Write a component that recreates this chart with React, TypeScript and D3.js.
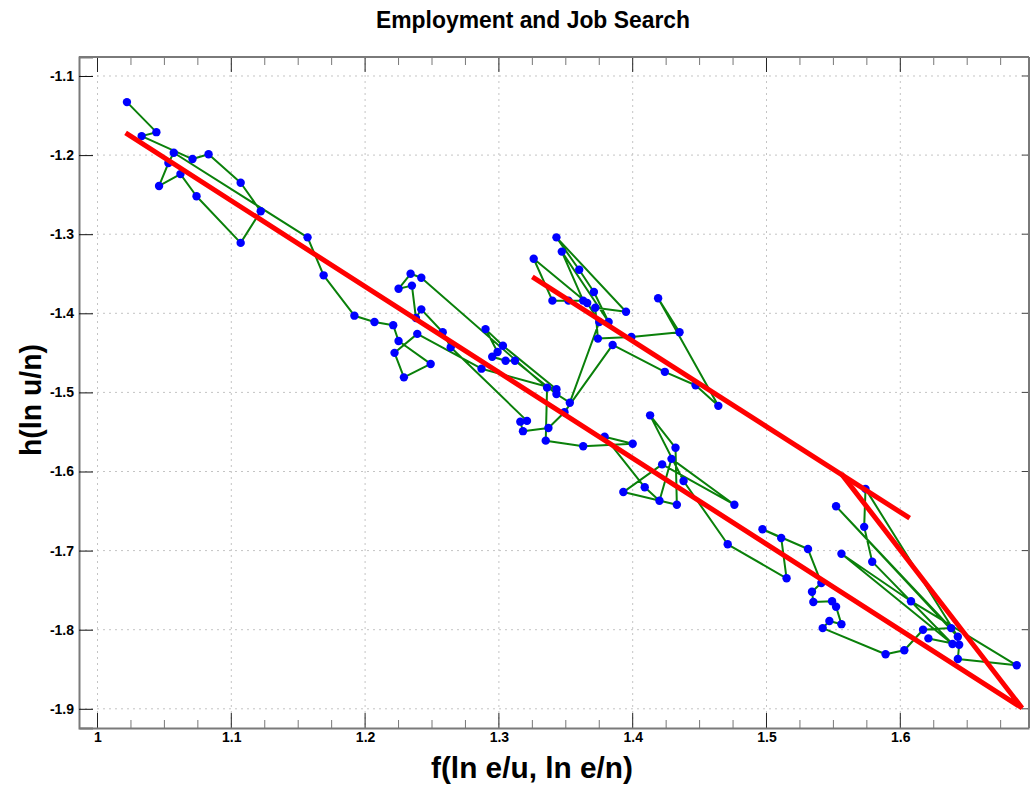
import { useEffect, useRef } from "react"
import * as d3 from "d3"

// series, in time order
const xVals = [
	1.022, 1.044, 1.033, 1.071, 1.083, 1.107, 1.122, 1.107, 1.074, 1.062, 1.046, 1.053, 1.057, 1.157, 1.169,
	1.192, 1.207, 1.221, 1.225, 1.249, 1.229, 1.222, 1.239, 1.287, 1.343, 1.303, 1.29, 1.299, 1.295, 1.305,
	1.312, 1.343, 1.353,
	1.375, 1.366, 1.326, 1.34, 1.352, 1.363, 1.347, 1.382, 1.371, 1.36, 1.343, 1.395, 1.372, 1.374, 1.399,
	1.435, 1.419, 1.464, 1.447, 1.424, 1.385,
	1.349, 1.337, 1.318, 1.316, 1.321, 1.264, 1.258, 1.242, 1.238, 1.235, 1.225, 1.234, 1.242, 1.336, 1.335,
	1.363, 1.4, 1.379, 1.409, 1.42, 1.429, 1.476, 1.422, 1.393, 1.433, 1.432, 1.413, 1.438,
	1.471, 1.515, 1.511, 1.497, 1.531, 1.541, 1.534, 1.535, 1.549, 1.552, 1.556, 1.547, 1.542, 1.589, 1.603,
	1.617, 1.638, 1.552, 1.643, 1.574, 1.573, 1.579, 1.639, 1.556, 1.608, 1.687, 1.643, 1.644, 1.621,
]
const yVals = [
	-1.133, -1.171, -1.176, -1.205, -1.199, -1.235, -1.271, -1.311, -1.252, -1.224, -1.239, -1.21, -1.197, -1.304, -1.352,
	-1.403, -1.411, -1.415, -1.435, -1.464, -1.481, -1.45, -1.426, -1.47, -1.496, -1.441, -1.42, -1.449, -1.455, -1.46,
	-1.46, -1.502, -1.513,
	-1.411, -1.387, -1.331, -1.384, -1.384, -1.384, -1.322, -1.411, -1.373, -1.345, -1.304, -1.398, -1.393, -1.432, -1.43,
	-1.424, -1.381, -1.517, -1.491, -1.474, -1.44,
	-1.525, -1.545, -1.549, -1.537, -1.536, -1.443, -1.424, -1.395, -1.406, -1.365, -1.369, -1.35, -1.355, -1.494, -1.561,
	-1.568, -1.565, -1.556, -1.62, -1.637, -1.584, -1.642, -1.591, -1.626, -1.642, -1.57, -1.529, -1.612,
	-1.692, -1.735, -1.684, -1.673, -1.698, -1.741, -1.752, -1.765, -1.764, -1.771, -1.793, -1.789, -1.798, -1.831, -1.826,
	-1.8, -1.798, -1.644, -1.809, -1.622, -1.67, -1.714, -1.818, -1.704, -1.764, -1.845, -1.837, -1.819, -1.811,
]

// fitted lines
const fitAX = [1.021, 1.691, 1.556]
const fitAY = [-1.172, -1.899, -1.603]
const fitBX = [1.325, 1.607]
const fitBY = [-1.354, -1.659]

const xTicks = [1, 1.1, 1.2, 1.3, 1.4, 1.5, 1.6]
const yTicks = [-1.1, -1.2, -1.3, -1.4, -1.5, -1.6, -1.7, -1.8, -1.9]
const xMinor = d3.range(0, 28).map((i) => 1 + i * 0.025)

const font = "'Liberation Sans', Arial, sans-serif"

export default function App() {
	const ref = useRef(null)
	const margin = { top: 57, right: 1, bottom: 59, left: 79 }
	const width = 1030 - margin.left - margin.right
	const height = 787 - margin.top - margin.bottom

	useEffect(() => {
		const root = d3.select(ref.current)
		root.selectAll("*").remove()

		const x = d3.scaleLinear().domain([0.98617, 1.69619]).range([0, width])
		const y = d3.scaleLinear().domain([-1.07598, -1.92427]).range([0, height])

		root
			.append("text")
			.attr("x", 533)
			.attr("y", 28)
			.attr("text-anchor", "middle")
			.attr("font-family", font)
			.attr("font-size", 24)
			.attr("font-weight", "bold")
			.attr("textLength", 314)
			.attr("lengthAdjust", "spacingAndGlyphs")
			.text("Employment and Job Search")

		const svg = root.append("g").attr("transform", `translate(${margin.left},${margin.top})`)

		// grid
		svg
			.append("g")
			.selectAll("line")
			.data(xTicks)
			.join("line")
			.attr("x1", (d) => x(d))
			.attr("x2", (d) => x(d))
			.attr("y1", 0)
			.attr("y2", height)
			.attr("stroke", "#c4c4c4")
			.attr("stroke-dasharray", "2,4")
		svg
			.append("g")
			.selectAll("line")
			.data(yTicks)
			.join("line")
			.attr("x1", 0)
			.attr("x2", width)
			.attr("y1", (d) => y(d))
			.attr("y2", (d) => y(d))
			.attr("stroke", "#c4c4c4")
			.attr("stroke-dasharray", "2,4")

		// minor/major ticks on top and bottom
		const isMajor = (d) => Math.abs(d * 10 - Math.round(d * 10)) < 1e-6
		svg
			.append("g")
			.selectAll("line")
			.data(xMinor)
			.join("line")
			.attr("x1", (d) => x(d))
			.attr("x2", (d) => x(d))
			.attr("y1", 0)
			.attr("y2", (d) => (isMajor(d) ? 15 : 8))
			.attr("stroke", (d) => (isMajor(d) ? "#222" : "#777"))
		svg
			.append("g")
			.selectAll("line")
			.data(xMinor)
			.join("line")
			.attr("x1", (d) => x(d))
			.attr("x2", (d) => x(d))
			.attr("y1", height)
			.attr("y2", (d) => height - (isMajor(d) ? 15 : 8))
			.attr("stroke", (d) => (isMajor(d) ? "#222" : "#777"))
		svg
			.append("g")
			.selectAll("line")
			.data(yTicks)
			.join("line")
			.attr("x1", width)
			.attr("x2", width - 7)
			.attr("y1", (d) => y(d))
			.attr("y2", (d) => y(d))
			.attr("stroke", "#444")

		// axes
		const yAxis = svg
			.append("g")
			.call(d3.axisLeft(y).tickValues(yTicks).tickSize(-14).tickPadding(5).tickFormat((d) => String(d)))
		const xAxis = svg
			.append("g")
			.attr("transform", `translate(0,${height})`)
			.call(d3.axisBottom(x).tickValues(xTicks).tickSize(0).tickPadding(4).tickFormat((d) => String(d)))
		for (const a of [yAxis, xAxis]) {
			a.select(".domain").attr("stroke", "#7a7a7a").attr("stroke-width", 2)
			a.selectAll(".tick line").attr("stroke", "#111")
			a.selectAll("text")
				.attr("font-family", font)
				.attr("font-size", 14)
				.attr("font-weight", "bold")
				.attr("fill", "#000")
		}
		svg.append("line").attr("x1", 0).attr("x2", width).attr("y1", 0).attr("y2", 0).attr("stroke", "#7a7a7a").attr("stroke-width", 2)
		svg.append("line").attr("x1", width).attr("x2", width).attr("y1", 0).attr("y2", height).attr("stroke", "#7a7a7a").attr("stroke-width", 2)

		// series
		const pts = xVals.map((v, i) => [v, yVals[i]])
		const line = d3
			.line()
			.x((d) => x(d[0]))
			.y((d) => y(d[1]))

		svg
			.append("path")
			.datum(pts)
			.attr("d", line)
			.attr("fill", "none")
			.attr("stroke", "#0a800a")
			.attr("stroke-width", 2)
			.attr("stroke-linejoin", "round")

		svg
			.append("g")
			.selectAll("circle")
			.data(pts)
			.join("circle")
			.attr("cx", (d) => x(d[0]))
			.attr("cy", (d) => y(d[1]))
			.attr("r", 4.2)
			.attr("fill", "#0000ff")

		const fitA = fitAX.map((v, i) => [v, fitAY[i]])
		const fitB = fitBX.map((v, i) => [v, fitBY[i]])
		for (const f of [fitA, fitB]) {
			svg
				.append("path")
				.datum(f)
				.attr("d", line)
				.attr("fill", "none")
				.attr("stroke", "#ff0000")
				.attr("stroke-width", 5)
				.attr("stroke-linejoin", "miter")
		}

		// axis titles
		root
			.append("text")
			.attr("x", 532)
			.attr("y", 778)
			.attr("text-anchor", "middle")
			.attr("font-family", font)
			.attr("font-size", 30)
			.attr("font-weight", "bold")
			.attr("textLength", 202)
			.attr("lengthAdjust", "spacingAndGlyphs")
			.text("f(ln e/u, ln e/n)")
		root
			.append("text")
			.attr("transform", "translate(41,400) rotate(-90)")
			.attr("text-anchor", "middle")
			.attr("font-family", font)
			.attr("font-size", 30)
			.attr("font-weight", "bold")
			.attr("textLength", 112)
			.attr("lengthAdjust", "spacingAndGlyphs")
			.text("h(ln u/n)")
	}, [])

	return (
		<svg
			ref={ref}
			width={1030}
			height={787}
			style={{ position: "absolute", left: 0, top: 0, background: "#fff" }}
		></svg>
	)
}
